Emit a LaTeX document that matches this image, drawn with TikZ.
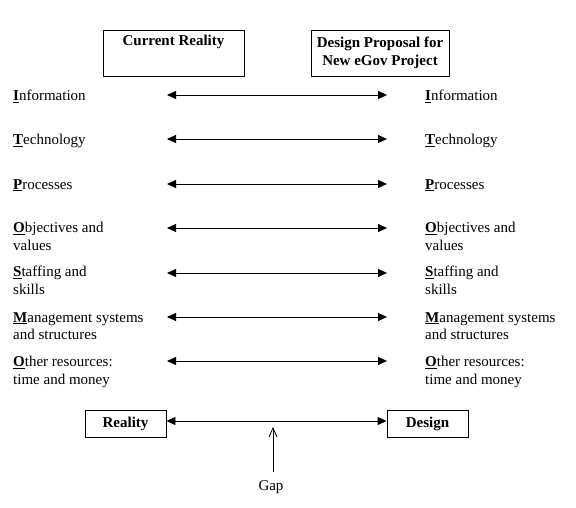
\documentclass[tikz,border=0pt]{standalone}
\usepackage{fontspec}
\setmainfont{Liberation Serif}
\usetikzlibrary{arrows.meta}
\newcommand{\ul}[1]{\underline{\textbf{#1}}}
\begin{document}
\begin{tikzpicture}[x=1pt,y=-1pt,
  lbl/.style={anchor=north west,inner sep=0pt,align=left,font=\fontsize{15}{17.5}\selectfont},
  hdr/.style={draw,line width=0.9pt,inner sep=0pt,align=center,font=\fontsize{15}{18}\selectfont\bfseries},
  dbl/.style={{Triangle[length=9pt,width=8pt]}-{Triangle[length=9pt,width=8pt]},line width=0.9pt},
  gaparrow/.style={-{Straight Barb[length=9pt,width=8pt]},line width=0.8pt}]
\useasboundingbox (0,0) rectangle (576,508);
% headers
\node[hdr,minimum width=141pt,minimum height=46pt] (cur) at (173.5,53) {};
\node[font=\fontsize{15}{18}\selectfont\bfseries,anchor=base,inner sep=0pt] (curt) at (173.5,46) {Current Reality};
\node[hdr,minimum width=138pt,minimum height=46pt] (des) at (380,53) {Design Proposal for\\New eGov Project};
% left labels
\foreach \n/\y/\t in {l1/90/{\ul{I}nformation},l2/134/{\ul{T}echnology},l3/179/{\ul{P}rocesses},
  l4/222/{\ul{O}bjectives and\\values},l5/266/{\ul{S}taffing and\\skills},
  l6/312/{\ul{M}anagement systems\\and structures},l7/356/{\ul{O}ther resources:\\time and money}}{
  \node[lbl] (\n) at (13,\y) {\t};
}
\foreach \n/\y/\t in {r1/90/{\ul{I}nformation},r2/134/{\ul{T}echnology},r3/179/{\ul{P}rocesses},
  r4/222/{\ul{O}bjectives and\\values},r5/266/{\ul{S}taffing and\\skills},
  r6/312/{\ul{M}anagement systems\\and structures},r7/356/{\ul{O}ther resources:\\time and money}}{
  \node[lbl] (\n) at (425,\y) {\t};
}
% arrows
\foreach \i/\y in {1/95,2/139,3/184,4/228,5/273,6/317,7/361}{
  \coordinate (a\i l) at (167,\y);
  \coordinate (a\i r) at (387,\y);
  \draw[dbl] (a\i l) -- (a\i r);
}
% bottom
\node[hdr,minimum width=81pt,minimum height=27pt] (real) at (125.5,423.5) {Reality};
\node[hdr,minimum width=81pt,minimum height=27pt] (dsg) at (427.5,423.5) {Design};
\draw[dbl] (real.east |- 0,421) -- (dsg.west |- 0,421);
\node[font=\fontsize{15}{17}\selectfont,anchor=north,inner sep=0pt] (gap) at (271,480) {Gap};
\coordinate (gapbot) at (273,472);
\coordinate (gaptop) at (273,427);
\draw[gaparrow] (gapbot) -- (gaptop);
\end{tikzpicture}
\end{document}
